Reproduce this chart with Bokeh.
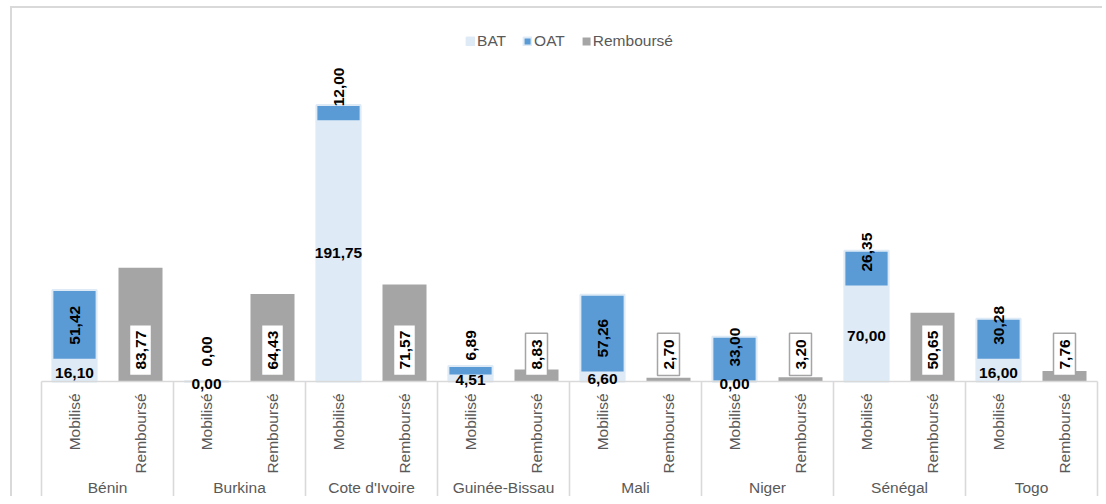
import math
from bokeh.plotting import figure
from bokeh.models import ColumnDataSource, FactorRange, Range1d, Legend, LegendItem
from bokeh.core.properties import value
from bokeh.embed import file_html
from bokeh.resources import INLINE

# ---------------- data ----------------
countries = ["Bénin", "Burkina", "Cote d'Ivoire", "Guinée-Bissau", "Mali", "Niger", "Sénégal", "Togo"]
subs = ["Mobilisé", "Remboursé"]
bat = [16.10, 0.00, 191.75, 4.51, 6.60, 0.00, 70.00, 16.00]
oat = [51.42, 0.00, 12.00, 6.89, 57.26, 33.00, 26.35, 30.28]
rembourse = [83.77, 64.43, 71.57, 8.83, 2.70, 3.20, 50.65, 7.76]
series = ["BAT", "OAT", "Remboursé"]

# ---------------- style / layout ----------------
FONT = "Liberation Sans"
FS = "15.5px"
C_BAT = "#DEEBF7"
C_OAT = "#5B9BD5"
C_REM = "#A5A5A5"
C_AX = "#D9D9D9"
C_TXT = "#595959"

W, H = 1092, 490
LEFT = 22
PAD_PX = 7.0
BASE_FROM_TOP = 373          # px from frame top to the zero line
SCALE = 1.357                # px per unit
y_end = BASE_FROM_TOP / SCALE
y_start = -(H - BASE_FROM_TOP) / SCALE


def px(d):
    return d / SCALE


def fmt(v):
    return f"{v:.2f}".replace(".", ",")


factors = [(c, s) for c in countries for s in subs]
n_units = len(factors)
unit_px = (W - LEFT - 2 * PAD_PX) / n_units
xr = FactorRange(*factors, factor_padding=0, subgroup_padding=0, group_padding=0,
                 range_padding=PAD_PX / unit_px, range_padding_units="absolute")

p = figure(x_range=xr, y_range=Range1d(y_start, y_end), width=W, height=H,
           output_backend="svg", toolbar_location=None,
           x_axis_location=None, y_axis_location=None,
           min_border_left=LEFT, min_border_right=0, min_border_top=0, min_border_bottom=0)
p.outline_line_color = None
p.grid.visible = False
p.styles = {"margin-left": "10px", "margin-top": "6px",
            "border-top": "2px solid #D9D9D9", "border-left": "2px solid #D9D9D9"}

mob_x = [(c, subs[0]) for c in countries]
rem_x = [(c, subs[1]) for c in countries]

src_m = ColumnDataSource(dict(
    x=mob_x,
    bat=bat,
    top=[b + o for b, o in zip(bat, oat)],
    bat_lbl=[fmt(v) for v in bat],
    oat_lbl=[fmt(v) for v in oat],
    bat_y=[b / 2 - px(2) for b in bat],
    oat_y=[b + px(15) for b in bat],
))
src_r = ColumnDataSource(dict(
    x=rem_x,
    rem=rembourse,
    rem_lbl=[fmt(v) for v in rembourse],
))

# axis region: separators and baseline
n_sub = len(subs)
bounds = [i * n_sub for i in range(len(countries) + 1)]
p.segment(x0=bounds, y0=[0] * len(bounds), x1=bounds, y1=[y_start] * len(bounds),
          line_color=C_AX, line_width=1.6)

# bars
bat_r = p.vbar(x="x", bottom=0, top="bat", width=0.67, source=src_m,
               fill_color=C_BAT, line_color=C_BAT, line_width=2)
oat_r = p.vbar(x="x", bottom="bat", top="top", width=0.67, source=src_m,
               fill_color=C_OAT, line_color=C_BAT, line_width=2)
rem_r = p.vbar(x="x", bottom=0, top="rem", width=0.667, source=src_r,
               fill_color=C_REM, line_color=None)

p.segment(x0=[bounds[0]], y0=[0], x1=[bounds[-1]], y1=[0], line_color=C_AX, line_width=1.6)

# data labels
common = dict(text_font=value(FONT), text_font_size=FS, text_font_style="bold", text_color="black")
p.text(x="x", y="bat_y", text="bat_lbl", source=src_m, text_align="center",
       text_baseline="middle", **common)
p.text(x="x", y="oat_y", text="oat_lbl", source=src_m, angle=math.pi / 2,
       text_align="left", text_baseline="middle", **common)
p.text(x="x", y=px(6), text="rem_lbl", source=src_r, angle=math.pi / 2,
       text_align="left", text_baseline="middle",
       background_fill_color="white", border_line_color=C_REM, border_line_width=1.5,
       padding=6, **common)

# category labels
src_ax = ColumnDataSource(dict(x=factors, t=[f[1] for f in factors]))
p.text(x="x", y=-px(12), text="t", source=src_ax, angle=math.pi / 2,
       text_align="right", text_baseline="middle",
       text_font=value(FONT), text_font_size=FS, text_color=C_TXT)
src_c = ColumnDataSource(dict(x=countries, t=countries))
p.text(x="x", y=-px(106), text="t", source=src_c, text_align="center",
       text_baseline="middle", text_font=value(FONT), text_font_size=FS, text_color=C_TXT)

legend = Legend(items=[LegendItem(label=series[0], renderers=[bat_r]),
                       LegendItem(label=series[1], renderers=[oat_r]),
                       LegendItem(label=series[2], renderers=[rem_r])],
                location="top_center", orientation="horizontal", margin=24,
                glyph_width=10, glyph_height=10, label_standoff=2, spacing=16,
                label_text_font=FONT, label_text_font_size=FS, label_text_color=C_TXT,
                border_line_color=None, background_fill_alpha=0)
p.add_layout(legend)

open("out.html", "w").write(file_html(p, INLINE))
